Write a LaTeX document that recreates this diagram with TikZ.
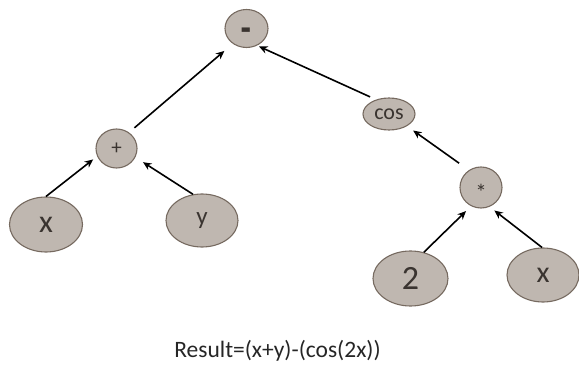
\documentclass[tikz,border=0pt]{standalone}
\usepackage{fontspec}
\setmainfont{Carlito}
\usetikzlibrary{shapes.geometric,arrows.meta}
\definecolor{nodefill}{RGB}{191,183,176}
\definecolor{nodeline}{RGB}{118,106,96}
\definecolor{nodetext}{RGB}{58,52,48}
\tikzset{
  treenode/.style={ellipse, draw=nodeline, fill=nodefill, line width=1.1pt, inner sep=0pt, text=nodetext},
  edgearrow/.style={line width=1.6pt, -{Stealth[length=8.5pt,width=7.5pt]}, black},
  fs/.style={font=\fontsize{#1}{#1}\selectfont}
}
\begin{document}
\begin{tikzpicture}[x=1pt,y=-1pt]
\useasboundingbox (0,0) rectangle (579,366);
\node[treenode, minimum width=43pt, minimum height=38pt, fs=23] (minus) at (246.5,28.5) {\raisebox{-16.5pt}[0pt][0pt]{\scalebox{1}[2.2]{\textbf{–}}}};
\node[treenode, minimum width=41pt, minimum height=39pt, fs=21] (plus) at (116.5,148.5) {+};
\node[treenode, minimum width=73pt, minimum height=55pt, fs=32] (xl) at (46,224.5) {x};
\node[treenode, minimum width=72pt, minimum height=53pt, fs=25] (yn) at (202,220.5) {y};
\node[treenode, minimum width=52pt, minimum height=32pt, fs=22] (cos) at (389,114) {cos};
\node[treenode, minimum width=42pt, minimum height=41pt, fs=23] (mul) at (481,187.5) {\raisebox{-13pt}[0pt][0pt]{*}};
\node[treenode, minimum width=75pt, minimum height=55pt, fs=34] (two) at (410.5,278.5) {2};
\node[treenode, minimum width=72pt, minimum height=54pt, fs=30] (xr) at (543,275) {x};
\draw[edgearrow, shorten >=5pt] (xl.north) -- (plus.202);
\draw[edgearrow, shorten >=9pt] (yn.109) -- (plus.335);
\draw[edgearrow, shorten <=7pt, shorten >=11pt] (plus.52) -- (minus.228);
\draw[edgearrow, shorten <=6.5pt, shorten >=2pt] (cos.132) -- (minus.302);
\draw[edgearrow, shorten <=12pt, shorten >=7.5pt] (mul.125) -- (cos.326);
\draw[edgearrow, shorten >=7pt] (two.63) -- (mul.242);
\draw[edgearrow, shorten >=6pt] (xr.92) -- (mul.294);
\node[fs=23.5, text=black!85, inner sep=0pt] (result) at (277.5,351) {Result=(x+y)-(cos(2x))};
\end{tikzpicture}
\end{document}
